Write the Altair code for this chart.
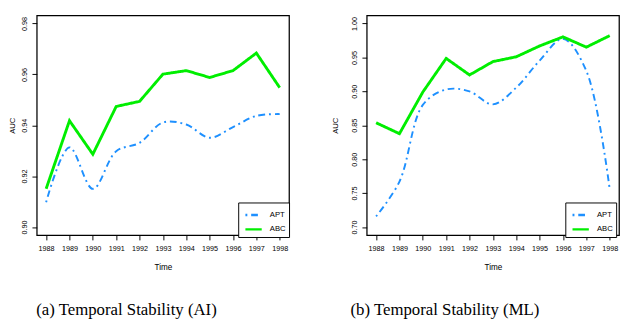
import altair as alt
import pandas as pd

years = [1988, 1989, 1990, 1991, 1992, 1993, 1994, 1995, 1996, 1997, 1998]
series_names = ["APT", "ABC"]

# (a) Temporal Stability (AI)
ai_apt = [0.9097, 0.9313, 0.9150, 0.9298, 0.9331, 0.9411, 0.9403, 0.9351, 0.9393, 0.9437, 0.9444]
ai_abc = [0.9150, 0.9418, 0.9286, 0.9474, 0.9494, 0.9601, 0.9615, 0.9588, 0.9615, 0.9684, 0.9548]

# (b) Temporal Stability (ML)
ml_apt = [0.7156, 0.7670, 0.8800, 0.9028, 0.9000, 0.8808, 0.9056, 0.9454, 0.9775, 0.9302, 0.7557]
ml_abc = [0.8537, 0.8376, 0.8990, 0.9486, 0.9242, 0.9439, 0.9510, 0.9670, 0.9804, 0.9652, 0.9822]

ai_ticks = [0.90, 0.92, 0.94, 0.96, 0.98]
ml_ticks = [0.70, 0.75, 0.80, 0.85, 0.90, 0.95, 1.00]

captions = ["(a) Temporal Stability (AI)", "(b) Temporal Stability (ML)"]

BLUE = "#1E90FF"
GREEN = "#00EE00"
SANS = "Liberation Sans"
SERIF = "Liberation Serif, DejaVu Serif, serif"


def frame(apt, abc):
    rows = []
    for y, a, b in zip(years, apt, abc):
        rows.append({"year": y, "series": "APT", "auc": a})
        rows.append({"year": y, "series": "ABC", "auc": b})
    return pd.DataFrame(rows)


def legend(legend_x):
    return alt.Legend(title=None, orient="none", legendX=legend_x, legendY=195,
                      symbolType="stroke", symbolSize=289, symbolStrokeWidth=2.5,
                      symbolOffset=3, strokeColor="black", fillColor="white", padding=3,
                      labelFont=SANS, labelFontSize=8, labelColor="black",
                      rowPadding=-7, labelOffset=7, cornerRadius=0)


def panel(df, ydomain, yticks, caption, dx, title_pad, legend_x):
    xenc = alt.X("year:Q", scale=alt.Scale(domain=[1987.6, 1998.4], nice=False, zero=False),
                 axis=alt.Axis(values=years, format="d", title="Time", grid=False, domain=False,
                               tickSize=5, labelPadding=5, labelFontSize=7.5, labelFont=SANS,
                               titleFont=SANS, titleFontSize=8.5, titleFontWeight="normal",
                               titlePadding=11, labelColor="black", tickColor="black",
                               titleColor="black", labelFlush=False))
    yenc = alt.Y("auc:Q", scale=alt.Scale(domain=ydomain, nice=False, zero=False),
                 axis=alt.Axis(values=yticks, format=".2f", title="AUC", grid=False, domain=False,
                               tickSize=5, labelPadding=4, labelAngle=270, labelAlign="center",
                               labelBaseline="bottom", labelFontSize=7.5, labelFont=SANS,
                               titleFont=SANS, titleFontSize=8, titleFontWeight="normal",
                               titlePadding=title_pad, labelColor="black", tickColor="black",
                               titleColor="black", labelFlush=False))
    color = alt.Color("series:N", scale=alt.Scale(domain=series_names, range=[BLUE, GREEN]),
                      legend=legend(legend_x))
    dash = alt.StrokeDash("series:N",
                          scale=alt.Scale(domain=series_names, range=[[2, 4, 7, 4], [1, 0]]),
                          legend=legend(legend_x))
    base = alt.Chart(df).encode(x=xenc, y=yenc, color=color, strokeDash=dash)
    apt_line = base.transform_filter(alt.datum.series == "APT").mark_line(
        strokeWidth=2, interpolate="catmull-rom")
    abc_line = base.transform_filter(alt.datum.series == "ABC").mark_line(strokeWidth=3)
    return alt.layer(apt_line, abc_line).properties(
        width=263, height=229,
        title=alt.TitleParams(caption, orient="bottom", anchor="middle", frame="group", dx=dx,
                              font=SERIF, fontSize=17.5, fontWeight="normal",
                              color="black", offset=32))


left = panel(frame(ai_apt, ai_abc), [0.8968, 0.9832], ai_ticks, captions[0], -38, 4, 210)
right = panel(frame(ml_apt, ml_abc), [0.688, 1.012], ml_ticks, captions[1], -50, 12, 207)

chart = alt.hconcat(left, right, spacing=41).resolve_scale(
    x="independent", y="independent", color="independent", strokeDash="independent"
).configure(padding=0).configure_view(stroke="black", strokeWidth=1.3).configure_title(
    font=SERIF, fontWeight="normal")

chart.save("out.html", embed_options={"renderer": "svg", "actions": False})
